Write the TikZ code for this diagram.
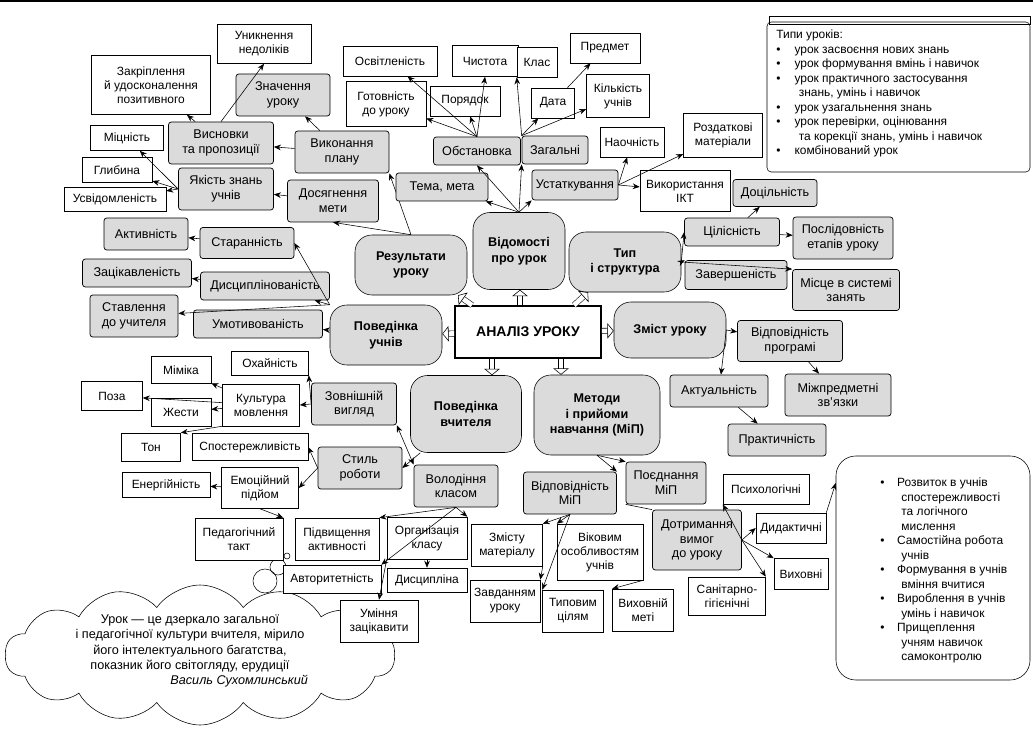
\documentclass[tikz,border=0pt]{standalone}
\usepackage{fontspec}
\setmainfont{Liberation Sans}
\usetikzlibrary{arrows.meta,shapes.symbols}
\newlength\px
\setlength\px{0.025cm}
\tikzset{
  wb/.style={draw, fill=white, align=center, inner sep=1pt, font=\fontsize{8.5}{10}\selectfont},
  gb/.style={wb, fill=gray!28, rounded corners=2pt, line width=0.5pt, font=\fontsize{9}{10.5}\selectfont},
  big/.style={draw, fill=gray!28, align=center, rounded corners=12pt, font=\bfseries\fontsize{9}{11}\selectfont},
  hol/.style={double, double distance=3.4pt, -{Triangle[open,width=11pt,length=4.5pt]}},
  >={Stealth[length=5pt,width=4pt]}
}
\begin{document}
\begin{tikzpicture}[x=0.025cm, y=-0.025cm]
\useasboundingbox (0,0) rectangle (1033,735);
\draw[line width=0.8pt] (0,1) -- (1033,1);

% quote cloud
\node[cloud, draw, fill=white, cloud puffs=14, cloud puff arc=110, aspect=3, minimum width=390\px, minimum height=140\px] (hmara) at (200,655) {};
\node[align=center, font=\fontsize{9}{11}\selectfont] (tsyt) at (190,651) {Урок — це дзеркало загальної\\і педагогічної культури вчителя, мірило\\його інтелектуального багатства,\\показник його світогляду, ерудиції\\\hspace*{70pt}\textit{Василь Сухомлинський}};
\draw (287,556) circle (3);
\draw (278,567) circle (8);
\draw (265,581) circle (12);

% centre and main branches
\node[draw, line width=1.2pt, fill=white, minimum width=146\px, minimum height=52\px, font=\bfseries\fontsize{10}{12}\selectfont] (an) at (528,332) {АНАЛІЗ УРОКУ};
\node[big, minimum width=112\px, minimum height=60\px] (res) at (411,265) {Результати\\уроку};
\node[big, minimum width=92\px, minimum height=77\px] (vid) at (519,251) {Відомості\\про урок};
\node[big, minimum width=112\px, minimum height=60\px] (typ) at (625,262) {Тип\\і структура};
\node[big, minimum width=112\px, minimum height=56\px] (zmist) at (670,330) {Зміст уроку};
\node[big, minimum width=112\px, minimum height=60\px] (povu) at (386,335) {Поведінка\\учнів};
\node[big, minimum width=111\px, minimum height=77\px] (povv) at (466,414) {Поведінка\\вчителя};
\node[big, minimum width=126\px, minimum height=80\px] (met) at (597,415) {Методи\\і прийоми\\навчання (МіП)};
\draw[hol] (an.north -| 472,0) -- (res.south -| 458,0);
\draw[hol] (an.north -| 520,0) -- (vid.south -| 520,0);
\draw[hol] (an.north -| 574,0) -- (typ.south -| 588,0);
\draw[hol] (an) -- (zmist);
\draw[hol] (an) -- (povu);
\draw[hol] (an.south -| 492,0) -- (povv.north -| 492,0);
\draw[hol] (an.south -| 561,0) -- (met.north -| 561,0);

% results
\node[wb, minimum width=94\px, minimum height=39\px] (unykn) at (264,44) {Уникнення\\недоліків};
\node[wb, minimum width=119\px, minimum height=59\px] (zakr) at (151,85) {Закріплення\\й удосконалення\\позитивного};
\node[gb, minimum width=94\px, minimum height=42\px] (znach) at (283,95) {Значення\\уроку};
\node[gb, minimum width=105\px, minimum height=42\px] (vysn) at (221,143) {Висновки\\та пропозиції};
\node[gb, minimum width=94\px, minimum height=42\px] (vyk) at (342,152) {Виконання\\плану};
\node[wb, minimum width=73\px, minimum height=25\px] (mitsn) at (127,138) {Міцність};
\node[wb, minimum width=70\px, minimum height=25\px] (hlyb) at (117,170) {Глибина};
\node[wb, minimum width=102\px, minimum height=24\px] (usvid) at (115,199) {Усвідомленість};
\node[gb, minimum width=95\px, minimum height=42\px] (yak) at (226,189) {Якість знань\\учнів};
\node[gb, minimum width=91\px, minimum height=42\px] (dos) at (333,201) {Досягнення\\мети};
\draw[->] (res.north) -- (dos.south);
\draw[->] (res.north) -- (vyk.south east);
\draw[->] (vyk) -- (znach);
\draw[->] (vyk) -- (vysn);
\draw[->] (vysn.north) -- (unykn.south);
\draw[->] (vysn) -- (zakr);
\draw[->] (dos) -- (yak);
\draw[->] (yak.west) -- (mitsn);
\draw[->] (yak.west) -- (hlyb);
\draw[->] (yak.west) -- (usvid);

% pupils' behaviour
\node[gb, minimum width=84\px, minimum height=32\px] (aktyv) at (146,234) {Активність};
\node[gb, minimum width=94\px, minimum height=31\px] (starann) at (247,243) {Старанність};
\node[gb, minimum width=109\px, minimum height=28\px] (zatsik) at (137,273) {Зацікавленість};
\node[gb, minimum width=129\px, minimum height=28\px] (dysc) at (265,286) {Дисциплінованість};
\node[gb, minimum width=88\px, minimum height=42\px] (stavl) at (134,316) {Ставлення\\до учителя};
\node[gb, minimum width=129\px, minimum height=28\px] (umot) at (258,324) {Умотивованість};
\draw[->] (povu.north west) -- (starann.east);
\draw[->] (povu.north west) -- (dysc);
\draw[->] (povu.north west) -- (stavl);
\draw[->] (povu) -- (umot);
\draw[->] (starann) -- (aktyv);
\draw[->] (dysc) -- (zatsik);

% information about the lesson
\node[gb, minimum width=87\px, minimum height=28\px] (obst) at (477,151) {Обстановка};
\node[wb, minimum width=94\px, minimum height=30\px] (osvit) at (390,61) {Освітленість};
\node[wb, minimum width=80\px, minimum height=45\px] (hotov) at (386,104) {Готовність\\до уроку};
\node[wb, minimum width=70\px, minimum height=30\px] (poryad) at (465,101) {Порядок};
\node[wb, minimum width=66\px, minimum height=31\px] (chyst) at (485,61) {Чистота};
\node[gb, minimum width=92\px, minimum height=28\px] (tema) at (442,187) {Тема, мета};
\node[wb, minimum width=40\px, minimum height=30\px] (klas) at (537,62) {Клас};
\node[wb, minimum width=70\px, minimum height=30\px] (predm) at (605,48) {Предмет};
\node[wb, minimum width=43\px, minimum height=30\px] (data) at (553,103) {Дата};
\node[wb, minimum width=63\px, minimum height=43\px] (kilk) at (618,96) {Кількість\\учнів};
\node[gb, minimum width=66\px, minimum height=28\px] (zah) at (555,150) {Загальні};
\node[gb, minimum width=86\px, minimum height=30\px] (ustat) at (575,185) {Устаткування};
\node[wb, minimum width=64\px, minimum height=30\px] (naoch) at (632,142) {Наочність};
\node[wb, minimum width=79\px, minimum height=44\px] (rozd) at (723,135) {Роздаткові\\матеріали};
\node[wb, minimum width=90\px, minimum height=41\px] (ikt) at (685,191) {Використання\\ІКТ};
\draw[->] (vid.north) -- (tema);
\draw[->] (vid.north) -- (obst.south);
\draw[->] (vid.north) -- (zah.south west);
\draw[->] (vid.north) -- (ustat.south west);
\draw[->] (obst.north) -- (osvit);
\draw[->] (obst.north) -- (hotov);
\draw[->] (obst.north) -- (poryad);
\draw[->] (obst.north) -- (chyst.south);
\draw[->] (zah.north west) -- (klas.south west);
\draw[->] (zah.north west) -- (data);
\draw[->] (zah.north west) -- (kilk);
\draw[->] (data) -- (predm);
\draw[->] (ustat.east) -- (naoch);
\draw[->] (ustat.east) -- (rozd);
\draw[->] (ustat.east) -- (ikt);

% type and structure
\node[gb, minimum width=84\px, minimum height=27\px] (dots) at (775,193) {Доцільність};
\node[gb, minimum width=95\px, minimum height=28\px] (tsil) at (732,232) {Цілісність};
\node[gb, minimum width=100\px, minimum height=42\px] (posl) at (843,238) {Послідовність\\етапів уроку};
\node[gb, minimum width=102\px, minimum height=29\px] (zav) at (736,275) {Завершеність};
\node[gb, minimum width=107\px, minimum height=41\px] (misc) at (846,290) {Місце в системі\\занять};
\draw[->] (typ.east) -- (tsil.west);
\draw[->] (typ.east) -- (zav.north west);
\draw[->] (typ.east) -- (misc.north west);
\draw[->] (tsil) -- (dots);
\draw[->] (tsil) -- (posl);

% content
\node[gb, minimum width=105\px, minimum height=41\px] (vprog) at (790,341) {Відповідність\\програмі};
\node[gb, minimum width=98\px, minimum height=32\px] (aktual) at (719,391) {Актуальність};
\node[gb, minimum width=106\px, minimum height=42\px] (mizh) at (838,395) {Міжпредметні\\зв'язки};
\node[gb, minimum width=98\px, minimum height=32\px] (prakt) at (777,440) {Практичність};
\draw[->] (zmist.east) -- (vprog);
\draw[->] (zmist.east) -- (aktual);
\draw[->] (vprog) -- (mizh);
\draw[->] (aktual) -- (prakt);

% teacher's behaviour
\node[wb, minimum width=77\px, minimum height=24\px] (okh) at (270,363) {Охайність};
\node[wb, minimum width=60\px, minimum height=27\px] (mim) at (181,370) {Міміка};
\node[wb, minimum width=61\px, minimum height=29\px] (poza) at (112,396) {Поза};
\node[wb, minimum width=77\px, minimum height=42\px] (kult) at (261,405) {Культура\\мовлення};
\node[wb, minimum width=60\px, minimum height=28\px] (zhest) at (181,412) {Жести};
\node[gb, minimum width=85\px, minimum height=42\px] (zovn) at (354,404) {Зовнішній\\вигляд};
\node[wb, minimum width=59\px, minimum height=28\px] (ton) at (151,447) {Тон};
\node[wb, minimum width=116\px, minimum height=27\px] (spost) at (250,447) {Спостережливість};
\node[gb, minimum width=84\px, minimum height=42\px] (stil) at (360,468) {Стиль\\роботи};
\node[wb, minimum width=88\px, minimum height=25\px] (energ) at (166,485) {Енергійність};
\node[wb, minimum width=77\px, minimum height=41\px] (emots) at (260,488) {Емоційний\\підйом};
\node[gb, minimum width=84\px, minimum height=42\px] (volod) at (456,486) {Володіння\\класом};
\node[wb, minimum width=88\px, minimum height=42\px] (takt) at (239,539) {Педагогічний\\такт};
\node[wb, minimum width=84\px, minimum height=42\px] (pidv) at (337,539) {Підвищення\\активності};
\node[wb, minimum width=80\px, minimum height=42\px] (org) at (427,538) {Організація\\класу};
\node[wb, minimum width=98\px, minimum height=28\px] (avt) at (332,579) {Авторитетність};
\node[wb, minimum width=80\px, minimum height=24\px] (dyscyp) at (427,580) {Дисципліна};
\node[wb, minimum width=78\px, minimum height=42\px] (umin) at (379,621) {Уміння\\зацікавити};
\draw[->] (povv) -- (stil.east);
\draw[<->] (zovn.south east) -- (volod.north west);
\draw[->] (zovn.west) -- (okh.south east);
\draw[->] (zovn.west) -- (kult.east);
\draw[->] (kult) -- (mim);
\draw[->] (kult) -- (poza);
\draw[->] (kult) -- (zhest);
\draw[->] (kult.south west) -- (ton.north east);
\draw[->] (stil.west) -- (spost.east);
\draw[->] (stil.west) -- (emots.east);
\draw[->] (emots) -- (energ);
\draw[->] (emots.south) -- (takt.north east);
\draw[->] (volod.south) -- (pidv.north east);
\draw[->] (volod.south) -- (org.north east);
\draw[->] (volod.south) -- (avt.north east);
\draw[->] (org) -- (dyscyp);
\draw[->] (org.south west) -- (umin.north);

% methods
\node[gb, minimum width=93\px, minimum height=42\px] (vmip) at (570,493) {Відповідність\\МіП};
\node[gb, minimum width=80\px, minimum height=42\px] (poyed) at (666,483) {Поєднання\\МіП};
\node[wb, minimum width=71\px, minimum height=42\px] (zmistu) at (507,545) {Змісту\\матеріалу};
\node[wb, minimum width=86\px, minimum height=56\px] (vikov) at (600,552) {Віковим\\особливостям\\учнів};
\node[wb, minimum width=70\px, minimum height=42\px] (zavd) at (505,601) {Завданням\\уроку};
\node[wb, minimum width=61\px, minimum height=42\px] (typov) at (573,611) {Типовим\\цілям};
\node[wb, minimum width=61\px, minimum height=42\px] (vykhm) at (643,610) {Виховній\\меті};
\node[gb, minimum width=89\px, minimum height=60\px] (dotr) at (697,540) {Дотримання\\вимог\\до уроку};
\node[wb, minimum width=86\px, minimum height=30\px] (psykh) at (766,489) {Психологічні};
\node[wb, minimum width=70\px, minimum height=30\px] (dyd) at (791,528) {Дидактичні};
\node[wb, minimum width=54\px, minimum height=31\px] (vykh) at (801,574) {Виховні};
\node[wb, minimum width=77\px, minimum height=38\px] (san) at (727,596) {Санітарно-\\гігієнічні};
\draw[->] (met.south) -- (vmip.north east);
\draw[->] (met.south) -- (poyed.north west);
\draw (poyed.south west) -- (dotr.north west);
\draw[->] (vmip.south) -- (zmistu.north east);
\draw[->] (vmip.south) -- (vikov.north west);
\draw[->] (vmip.south) -- (typov.north west);
\draw[->] (zmistu.south east) -- (zavd.north east);
\draw[->] (vikov.south east) -- (vykhm.north west);
\draw[->] (dotr.east) -- (psykh.south west);
\draw[->] (dotr.east) -- (dyd.west);
\draw[->] (dotr.east) -- (vykh.north west);
\draw[->] (dotr.east) -- (san.north east);

% types of lessons
\draw[rounded corners=3pt] (767,22) rectangle (1030,172);
\draw (769,16) rectangle (1030,24);
\node[anchor=north west, align=left, inner sep=0pt, font=\fontsize{8.5}{10.3}\selectfont] (typy) at (776,30)
 {Типи уроків:\\
 \textbullet\hspace{10pt}урок засвоєння нових знань\\
 \textbullet\hspace{10pt}урок формування вмінь і навичок\\
 \textbullet\hspace{10pt}урок практичного застосування\\
 \hspace{16pt}знань, умінь і навичок\\
 \textbullet\hspace{10pt}урок узагальнення знань\\
 \textbullet\hspace{10pt}урок перевірки, оцінювання\\
 \hspace{16pt}та корекції знань, умінь і навичок\\
 \textbullet\hspace{10pt}комбінований урок};

% goals box
\node[draw, rounded corners=14pt, minimum width=194\px, minimum height=224\px] (tsili) at (933,568) {};
\node[anchor=north west, align=left, inner sep=0pt, font=\fontsize{8.5}{10.3}\selectfont] at (880,478)
 {\textbullet\hspace{9pt}Розвиток в учнів\\
 \hspace{15pt}спостережливості\\
 \hspace{15pt}та логічного\\
 \hspace{15pt}мислення\\
 \textbullet\hspace{9pt}Самостійна робота\\
 \hspace{15pt}учнів\\
 \textbullet\hspace{9pt}Формування в учнів\\
 \hspace{15pt}вміння вчитися\\
 \textbullet\hspace{9pt}Вироблення в учнів\\
 \hspace{15pt}умінь і навичок\\
 \textbullet\hspace{9pt}Прищеплення\\
 \hspace{15pt}учням навичок\\
 \hspace{15pt}самоконтролю};
\draw[->] (dyd.north east) -- (tsili.west |- 0,483);
\end{tikzpicture}
\end{document}
